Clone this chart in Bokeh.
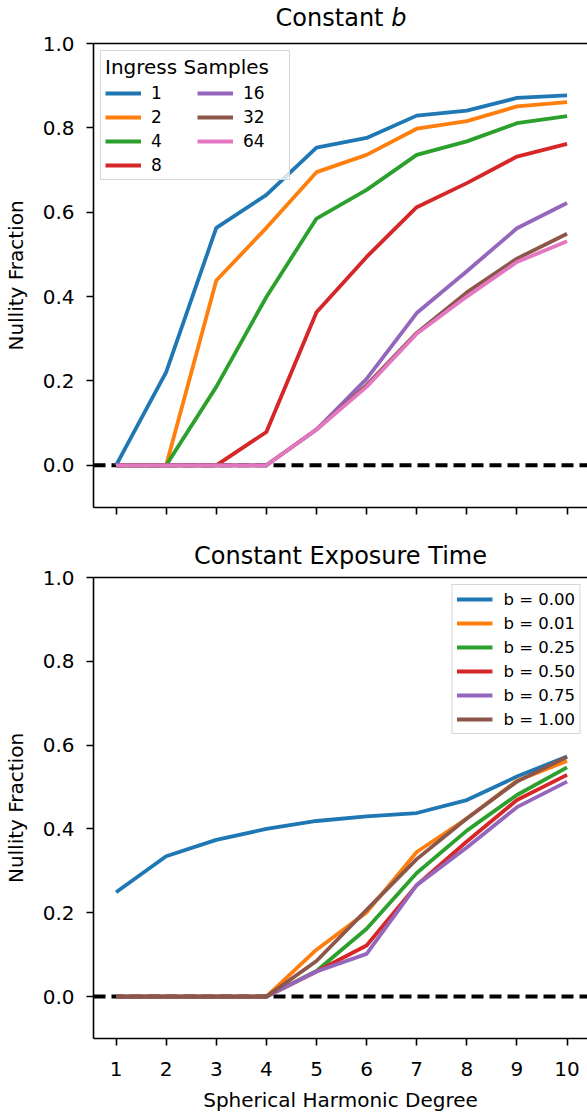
from bokeh.plotting import figure
from bokeh.models import (FixedTicker, PrintfTickFormatter, Legend, LegendItem, Span,
                          LinearAxis, Range1d, Div)
from bokeh.layouts import column
from bokeh.embed import file_html
from bokeh.resources import INLINE

# ---------------- data ----------------
degrees = [1, 2, 3, 4, 5, 6, 7, 8, 9, 10]
y_ticks = [0.0, 0.2, 0.4, 0.6, 0.8, 1.0]

ingress_labels = ["1", "2", "4", "8", "16", "32", "64"]
ingress_1 = [0.0, 0.221, 0.563, 0.641, 0.753, 0.776, 0.829, 0.841, 0.871, 0.877]
ingress_2 = [0.0, 0.0, 0.438, 0.563, 0.695, 0.736, 0.798, 0.816, 0.851, 0.861]
ingress_4 = [0.0, 0.0, 0.186, 0.399, 0.585, 0.653, 0.736, 0.768, 0.811, 0.828]
ingress_8 = [0.0, 0.0, 0.0, 0.079, 0.363, 0.494, 0.612, 0.669, 0.732, 0.762]
ingress_16 = [0.0, 0.0, 0.0, 0.0, 0.085, 0.205, 0.361, 0.460, 0.562, 0.622]
ingress_32 = [0.0, 0.0, 0.0, 0.0, 0.085, 0.190, 0.314, 0.410, 0.490, 0.549]
ingress_64 = [0.0, 0.0, 0.0, 0.0, 0.085, 0.186, 0.312, 0.400, 0.482, 0.531]

b_labels = ["b = 0.00", "b = 0.01", "b = 0.25", "b = 0.50", "b = 0.75", "b = 1.00"]
b_000 = [0.249, 0.335, 0.374, 0.400, 0.419, 0.430, 0.438, 0.469, 0.525, 0.573]
b_001 = [0.0, 0.0, 0.0, 0.0, 0.112, 0.201, 0.345, 0.425, 0.515, 0.562]
b_025 = [0.0, 0.0, 0.0, 0.0, 0.061, 0.162, 0.295, 0.396, 0.481, 0.547]
b_050 = [0.0, 0.0, 0.0, 0.0, 0.060, 0.122, 0.266, 0.370, 0.469, 0.529]
b_075 = [0.0, 0.0, 0.0, 0.0, 0.060, 0.102, 0.266, 0.356, 0.452, 0.513]
b_100 = [0.0, 0.0, 0.0, 0.0, 0.085, 0.207, 0.328, 0.425, 0.513, 0.572]

colors = ["#1f77b4", "#ff7f0e", "#2ca02c", "#d62728", "#9467bd", "#8c564b", "#e377c2"]
FONT = "DejaVu Sans"
LW = 3.8


def make_fig(height, min_top, min_bottom, title, show_xlabels):
    kw = dict(title=title) if title else {}
    p = figure(width=587, height=height, x_range=Range1d(0.55, 10.408),
               y_range=Range1d(-0.1, 1.0), output_backend="svg", toolbar_location=None,
               min_border_left=93, min_border_right=0, min_border_top=min_top,
               min_border_bottom=min_bottom, **kw)
    p.outline_line_color = None
    p.grid.visible = False
    p.title.text_font = FONT
    p.title.text_font_size = "24px"
    p.title.text_font_style = "normal"
    p.title.align = "center"
    p.title.text_color = "black"

    for ax in (p.xaxis[0], p.yaxis[0]):
        ax.axis_line_width = 1.6
        ax.axis_line_color = "black"
        ax.major_tick_line_width = 1.6
        ax.major_tick_line_color = "black"
        ax.major_tick_in = 0
        ax.major_tick_out = 7
        ax.minor_tick_line_color = None
        ax.major_label_text_font = FONT
        ax.major_label_text_font_size = "20px"
        ax.major_label_text_color = "black"
        ax.axis_label_text_font = FONT
        ax.axis_label_text_font_size = "20px"
        ax.axis_label_text_font_style = "normal"
        ax.axis_label_text_color = "black"

    p.xaxis.ticker = FixedTicker(ticks=degrees)
    p.yaxis.ticker = FixedTicker(ticks=y_ticks)
    p.yaxis.formatter = PrintfTickFormatter(format="%.1f")
    p.yaxis.axis_label = "Nullity Fraction"
    p.yaxis.major_label_standoff = 12
    p.yaxis.axis_label_standoff = 12
    if show_xlabels:
        p.xaxis.axis_label = "Spherical Harmonic Degree"
        p.xaxis.major_label_standoff = 16
        p.xaxis.axis_label_standoff = 9
    else:
        p.xaxis.major_label_text_font_size = "1px"
        p.xaxis.major_label_text_color = None
        p.xaxis.major_label_standoff = 0

    # top spine
    top = LinearAxis(ticker=FixedTicker(ticks=[]), major_tick_in=0, major_tick_out=0,
                     minor_tick_in=0, minor_tick_out=0, major_label_text_font_size="1px",
                     major_label_text_color=None,
                     major_label_standoff=0, axis_line_width=1.6, axis_line_color="black")
    p.add_layout(top, "above")

    p.add_layout(Span(location=0, dimension="width", line_color="black", line_width=4,
                      line_dash="12 6", level="underlay"))
    return p


# ---------------- title of the top panel (HTML so that b can be italic) ----------------
title1 = Div(text='<div style="margin-left:93px;width:496px;padding-top:7px;text-align:center;'
                  'font-family:\'DejaVu Sans\';font-size:24px;line-height:23px;color:black;">'
                  'Constant <i>b</i></div>',
             width=587, height=31, margin=0)

# ---------------- top panel ----------------
p1 = make_fig(499, 12, 23, None, False)
series1 = [ingress_1, ingress_2, ingress_4, ingress_8, ingress_16, ingress_32, ingress_64]
items1 = []
for lab, ys, c in zip(ingress_labels, series1, colors):
    r = p1.line(degrees, ys, line_color=c, line_width=LW)
    items1.append(LegendItem(label=lab, renderers=[r]))
leg1 = Legend(items=items1, location="top_left", ncols=2, title="Ingress Samples",
              title_text_font=FONT, title_text_font_size="20px", title_text_font_style="normal",
              title_text_color="black", title_standoff=4,
              label_text_font=FONT, label_text_font_size="17px", label_text_color="black",
              glyph_width=36, glyph_height=20, label_height=20, label_width=42,
              label_standoff=10, spacing=4, padding=4, margin=7,
              border_line_color="#cccccc", border_line_width=1.6, border_line_alpha=0.8,
              background_fill_alpha=0.8)
p1.add_layout(leg1)

# ---------------- bottom panel ----------------
p2 = make_fig(584, 47, 73, "Constant Exposure Time", True)
p2.title.standoff = 15
series2 = [b_000, b_001, b_025, b_050, b_075, b_100]
items2 = []
for lab, ys, c in zip(b_labels, series2, colors):
    r = p2.line(degrees, ys, line_color=c, line_width=LW)
    items2.append(LegendItem(label=lab, renderers=[r]))
leg2 = Legend(items=items2, location="top_right", label_text_font=FONT,
              label_text_font_size="16.5px", label_text_color="black",
              glyph_width=36, glyph_height=20,
              label_height=20, label_standoff=11, spacing=4, padding=4, margin=7,
              border_line_color="#cccccc", border_line_width=1.6, border_line_alpha=0.8,
              background_fill_alpha=0.8)
p2.add_layout(leg2)

layout = column(title1, p1, p2, spacing=0)
open("out.html", "w").write(file_html(layout, INLINE))
